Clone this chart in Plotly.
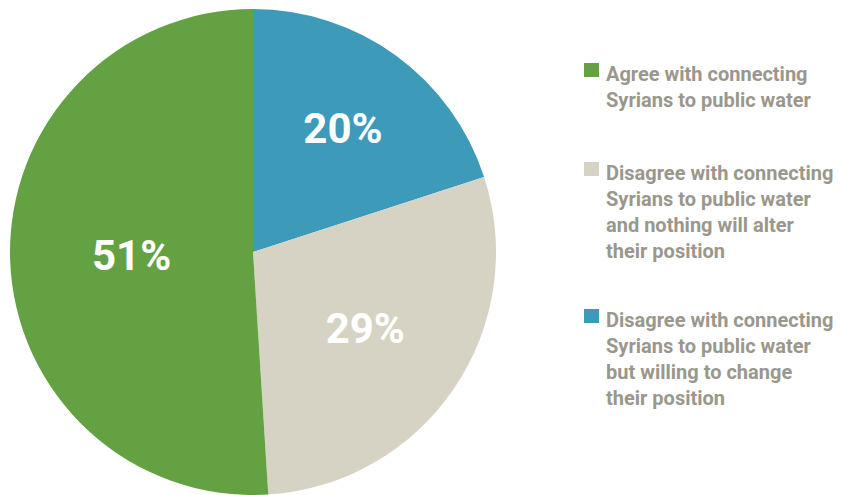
import plotly.graph_objects as go

# Data (legend order)
labels = [
    "Agree with connecting<br>Syrians to public water",
    "Disagree with connecting<br>Syrians to public water<br>and nothing will alter<br>their position",
    "Disagree with connecting<br>Syrians to public water<br>but willing to change<br>their position",
]
values = [51, 29, 20]
colors = ["#63a143", "#d6d3c4", "#3d9ab8"]

font_family = "Roboto, Liberation Sans, sans-serif"
W, H = 841, 495

fig = go.Figure()

# slices run clockwise from 12 o'clock, last legend item first
fig.add_trace(go.Pie(
    labels=labels[::-1],
    values=values[::-1],
    sort=False,
    direction="clockwise",
    rotation=0,
    marker=dict(colors=colors[::-1], line=dict(width=0)),
    texttemplate="%{value}%",
    textposition="inside",
    insidetextorientation="horizontal",
    textfont=dict(color="white", size=42, family=font_family, weight="bold"),
    domain=dict(x=[10 / W, 496 / W], y=[0, 486 / H]),
    hoverinfo="label+percent",
    showlegend=False,
))

# legend drawn by hand so the item spacing matches
legend_tops = [60, 159, 306]  # px from top
for label, color, top in zip(labels, colors, legend_tops):
    fig.add_shape(
        type="rect", xref="paper", yref="paper",
        x0=584 / W, x1=599 / W,
        y0=1 - (top + 3) / H, y1=1 - (top + 17) / H,
        fillcolor=color, line=dict(width=0),
    )
    fig.add_annotation(
        x=604 / W, y=1 - top / H, xref="paper", yref="paper",
        xanchor="left", yanchor="top", align="left",
        text=label, showarrow=False,
        font=dict(family=font_family, size=20, color="#9a978c", weight="bold"),
    )

fig.update_layout(
    width=W,
    height=H,
    margin=dict(l=0, r=0, t=0, b=0),
    paper_bgcolor="white",
    plot_bgcolor="white",
    showlegend=False,
)

# drop the browser's default body margin so the figure sits at the window corner
fig.write_html(
    "out.html",
    config={"displayModeBar": False},
    post_script="document.body.style.margin = '0px';",
)
